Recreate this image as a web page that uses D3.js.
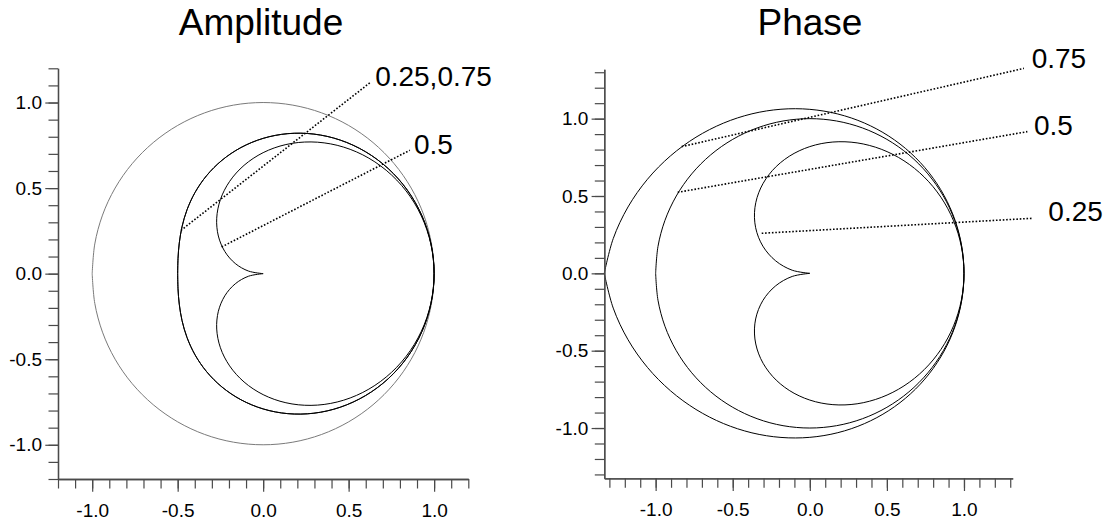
<!DOCTYPE html>
<html>
<head>
<meta charset="utf-8">
<script src="https://cdn.jsdelivr.net/npm/d3@7"></script>
<style>
  body { margin: 0; background: #fff; }
  svg { display: block; }
  text { font-family: "Liberation Sans", Arial, Helvetica, sans-serif; fill: #000; }
</style>
</head>
<body>
<svg id="chart" width="1108" height="521"></svg>
<script>
// ---------------- data ----------------
// polar angle (degrees) shared by all curves
const anglesDeg = [-180,-170,-160,-150,-140,-130,-120,-110,-100,-90,-80,-70,-60,-50,-40,-30,-20,-10,
                   0,10,20,30,40,50,60,70,80,90,100,110,120,130,140,150,160,170,180];

// Amplitude panel: radius for each angle
const ampUnit = [1,1,1,1,1,1,1,1,1,1,1,1,1,1,1,1,1,1,1,1,1,1,1,1,1,1,1,1,1,1,1,1,1,1,1,1,1];
const amp025 = [0.5,0.50567,0.52212,0.54794,0.58115,0.61964,0.66144,0.70480,0.74825,0.79057,0.83073,0.86790,0.90139,0.93061,0.95513,0.97455,0.98863,0.99715,
                1,0.99715,0.98863,0.97455,0.95513,0.93061,0.90139,0.86790,0.83073,0.79057,0.74825,0.70480,0.66144,0.61964,0.58115,0.54794,0.52212,0.50567,0.5];
const amp075 = [0.5,0.50567,0.52212,0.54794,0.58115,0.61964,0.66144,0.70480,0.74825,0.79057,0.83073,0.86790,0.90139,0.93061,0.95513,0.97455,0.98863,0.99715,
                1,0.99715,0.98863,0.97455,0.95513,0.93061,0.90139,0.86790,0.83073,0.79057,0.74825,0.70480,0.66144,0.61964,0.58115,0.54794,0.52212,0.50567,0.5];
const amp05  = [0,0.08716,0.17365,0.25882,0.34202,0.42262,0.5,0.57358,0.64279,0.70711,0.76604,0.81915,0.86603,0.90631,0.93969,0.96593,0.98481,0.99619,
                1,0.99619,0.98481,0.96593,0.93969,0.90631,0.86603,0.81915,0.76604,0.70711,0.64279,0.57358,0.5,0.42262,0.34202,0.25882,0.17365,0.08716,0];

// Phase panel: radius for each angle
const phase025 = [0,0.11589,0.23563,0.35165,0.45864,0.55394,0.63690,0.70802,0.76841,0.81933,0.86198,0.89741,0.92653,0.95006,0.96859,0.98257,0.99233,0.99809,
                  1,0.99809,0.99233,0.98257,0.96859,0.95006,0.92653,0.89741,0.86198,0.81933,0.76841,0.70802,0.63690,0.55394,0.45864,0.35165,0.23563,0.11589,0];
const phase05  = [1,1,1,1,1,1,1,1,1,1,1,1,1,1,1,1,1,1,1,1,1,1,1,1,1,1,1,1,1,1,1,1,1,1,1,1,1];
const phase075 = [1.33333,1.29470,1.25479,1.21612,1.18045,1.14869,1.12104,1.09733,1.07720,1.06022,1.04601,1.03420,1.02449,1.01665,1.01047,1.00581,1.00256,1.00063,
                  1,1.00063,1.00256,1.00581,1.01047,1.01665,1.02449,1.03420,1.04601,1.06022,1.07720,1.09733,1.12104,1.14869,1.18045,1.21612,1.25479,1.29470,1.33333];

// tick labels
const majorTicks = [-1.0, -0.5, 0.0, 0.5, 1.0];

// annotation labels
const ampLabels = ["0.25,0.75", "0.5"];
const phaseLabels = ["0.75", "0.5", "0.25"];

// ---------------- layout ----------------
const svg = d3.select("#chart");
const rad = Math.PI / 180;
const fmt = d => d3.format(".1f")(d).replace("\u2212", "-");

const panels = [
  {
    title: "Amplitude", titleX: 261,
    x: d3.scaleLinear().domain([-1.2, 1.2]).range([58, 468.3]),
    y: d3.scaleLinear().domain([-1.2, 1.2]).range([479, 68.3]),
    minor: d3.range(-12, 13).map(i => i / 10),
    series: [
      { r: ampUnit, color: "#7a7a7a", width: 1 },
      { r: amp025, color: "#000", width: 1 },
      { r: amp075, color: "#000", width: 1 },
      { r: amp05,  color: "#000", width: 1 }
    ],
    notes: [
      { text: ampLabels[0], from: [-0.481, 0.253], to: [0.624, 1.115], at: [0.655, 1.094] },
      { text: ampLabels[1], from: [-0.243, 0.156], to: [0.858, 0.721], at: [0.882, 0.702] }
    ]
  },
  {
    title: "Phase", titleX: 810,
    x: d3.scaleLinear().domain([-1.333, 1.316]).range([604.3, 1012.7]),
    y: d3.scaleLinear().domain([-1.325, 1.319]).range([478.3, 69.3]),
    minor: d3.range(-13, 14).map(i => i / 10),
    series: [
      { r: phase025, color: "#000", width: 1 },
      { r: phase05,  color: "#000", width: 1 },
      { r: phase075, color: "#000", width: 1 }
    ],
    notes: [
      { text: phaseLabels[0], from: [-0.831, 0.819], to: [1.389, 1.325], at: [1.439, 1.325] },
      { text: phaseLabels[1], from: [-0.857, 0.524], to: [1.411, 0.916], at: [1.454, 0.894] },
      { text: phaseLabels[2], from: [-0.312, 0.259], to: [1.446, 0.356], at: [1.547, 0.338] }
    ]
  }
];

panels.forEach(p => {
  const g = svg.append("g");
  const [x0] = p.x.range();
  const [y0] = p.y.range();

  // title
  g.append("text")
    .attr("x", p.titleX).attr("y", 35)
    .attr("text-anchor", "middle")
    .style("font-size", "37px")
    .text(p.title);

  // curves
  const line = d3.line()
    .x(d => p.x(d.r * Math.cos(d.a * rad)))
    .y(d => p.y(d.r * Math.sin(d.a * rad)))
    .curve(d3.curveCatmullRom.alpha(0.5));

  p.series.forEach(s => {
    const pts = anglesDeg.map((a, i) => ({ a: a, r: s.r[i] }));
    g.append("path")
      .datum(pts)
      .attr("d", line)
      .attr("fill", "none")
      .attr("stroke", s.color)
      .attr("stroke-width", s.width);
  });

  // annotation leader lines + labels
  p.notes.forEach(n => {
    g.append("line")
      .attr("x1", p.x(n.from[0])).attr("y1", p.y(n.from[1]))
      .attr("x2", p.x(n.to[0])).attr("y2", p.y(n.to[1]))
      .attr("stroke", "#000")
      .attr("stroke-width", 1.6)
      .attr("stroke-dasharray", "1.6,1.8");
    g.append("text")
      .attr("x", p.x(n.at[0])).attr("y", p.y(n.at[1]))
      .style("font-size", "28px")
      .text(n.text);
  });

  // axes: minor ticks
  const axisColor = "#4a4a4a";
  const yMinor = d3.axisLeft(p.y).tickValues(p.minor).tickSize(9.5).tickSizeOuter(0).tickFormat("");
  const xMinor = d3.axisBottom(p.x).tickValues(p.minor).tickSize(9.5).tickSizeOuter(0).tickFormat("");
  const yMajor = d3.axisLeft(p.y).tickValues(majorTicks).tickSize(12.7).tickSizeOuter(0).tickPadding(3.3).tickFormat(fmt);
  const xMajor = d3.axisBottom(p.x).tickValues(majorTicks).tickSize(12.7).tickSizeOuter(0).tickPadding(12).tickFormat(fmt);

  const gy1 = g.append("g").attr("transform", `translate(${x0},0)`).call(yMinor);
  const gx1 = g.append("g").attr("transform", `translate(0,${y0})`).call(xMinor);
  const gy2 = g.append("g").attr("transform", `translate(${x0},0)`).call(yMajor);
  const gx2 = g.append("g").attr("transform", `translate(0,${y0})`).call(xMajor);

  [gy1, gx1, gy2, gx2].forEach(a => {
    a.selectAll("path.domain").attr("stroke", axisColor).attr("stroke-width", 1.3);
    a.selectAll(".tick line").attr("stroke", axisColor).attr("stroke-width", 1.2);
    a.selectAll(".tick text").attr("fill", "#000").style("font-size", "19px")
      .style("font-family", '"Liberation Sans", Arial, Helvetica, sans-serif');
  });
});
</script>
</body>
</html>
